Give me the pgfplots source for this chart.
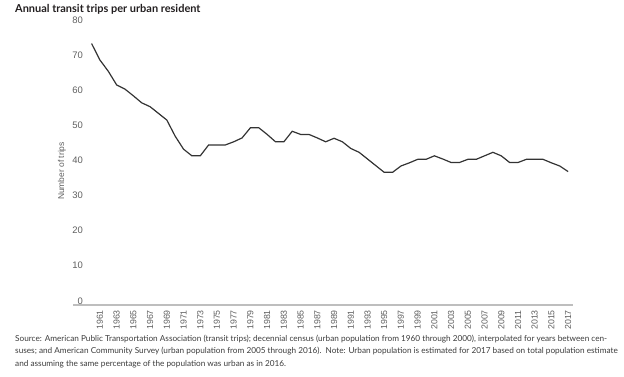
\documentclass[border=0pt]{standalone}
\usepackage{pgfplots}
\pgfplotsset{compat=1.18}
\usepackage{fontspec}
\setmainfont{Lato}
\newfontfamily\arial{Liberation Sans}
\definecolor{linecol}{RGB}{51,51,51}
\definecolor{axiscol}{RGB}{190,190,190}
\definecolor{tickcol}{RGB}{95,95,95}
\definecolor{titlecol}{RGB}{35,31,32}
\definecolor{notecol}{RGB}{60,60,60}
\pgfplotstableread{
year val
1960 73.3
1961 68.6
1962 65.4
1963 61.5
1964 60.3
1965 58.4
1966 56.4
1967 55.3
1968 53.4
1969 51.5
1970 46.9
1971 43.2
1972 41.3
1973 41.3
1974 44.4
1975 44.4
1976 44.4
1977 45.3
1978 46.4
1979 49.3
1980 49.3
1981 47.4
1982 45.3
1983 45.3
1984 48.3
1985 47.4
1986 47.4
1987 46.4
1988 45.3
1989 46.3
1990 45.3
1991 43.4
1992 42.3
1993 40.4
1994 38.5
1995 36.6
1996 36.6
1997 38.4
1998 39.3
1999 40.3
2000 40.3
2001 41.3
2002 40.4
2003 39.4
2004 39.4
2005 40.3
2006 40.3
2007 41.3
2008 42.3
2009 41.3
2010 39.4
2011 39.4
2012 40.3
2013 40.3
2014 40.3
2015 39.3
2016 38.4
2017 36.8
}\tripdata
\begin{document}
\begin{tikzpicture}
\useasboundingbox (0bp,0bp) rectangle (624bp,377bp);
\begin{axis}[
  at={(73bp,72bp)}, anchor=south west,
  scale only axis, width=500bp, height=285bp,
  xmin=1957.78, xmax=2017.58, ymin=-1.2, ymax=80,
  axis x line*=bottom, axis y line*=left,
  separate axis lines,
  x axis line style={draw=axiscol, line width=1.3pt, -},
  y axis line style={draw=none},
  major tick length=0pt,
  xtick={1961,1963,...,2017},
  ytick={0,10,...,80},
  /pgf/number format/1000 sep={},
  /pgf/number format/assume math mode=true,
  yticklabel style={anchor=east, inner sep=0pt, xshift=10bp, text=tickcol, font=\arial\fontsize{9.5}{11}\selectfont},
  xticklabel style={yshift=-5bp, rotate=90, anchor=east, inner sep=0pt, text=tickcol, font=\arial\fontsize{8.8}{10}\selectfont},
  clip=false,
]
\addplot[linecol, line width=1.2pt, mark=none] table[x=year, y=val] {\tripdata};
\end{axis}
\node[rotate=90, text=tickcol, font=\arial\fontsize{8.5}{10}\selectfont] at (62bp,206bp) {Number of trips};
\node[anchor=base west, inner sep=0pt, text=titlecol, font=\bfseries\fontsize{11}{13}\selectfont] at (15bp,364bp) {Annual transit trips per urban resident};
\node[anchor=base west, inner sep=0pt, text=notecol, font=\fontsize{8.25}{10}\selectfont] at (15bp,36bp) {Source: American Public Transportation Association (transit trips); decennial census (urban population from 1960 through 2000), interpolated for years between cen-};
\node[anchor=base west, inner sep=0pt, text=notecol, font=\fontsize{8.25}{10}\selectfont] at (15bp,23.5bp) {suses; and American Community Survey (urban population from 2005 through 2016).\ \ Note: Urban population is estimated for 2017 based on total population estimate};
\node[anchor=base west, inner sep=0pt, text=notecol, font=\fontsize{8.25}{10}\selectfont] at (15bp,11bp) {and assuming the same percentage of the population was urban as in 2016.};
\end{tikzpicture}
\end{document}
